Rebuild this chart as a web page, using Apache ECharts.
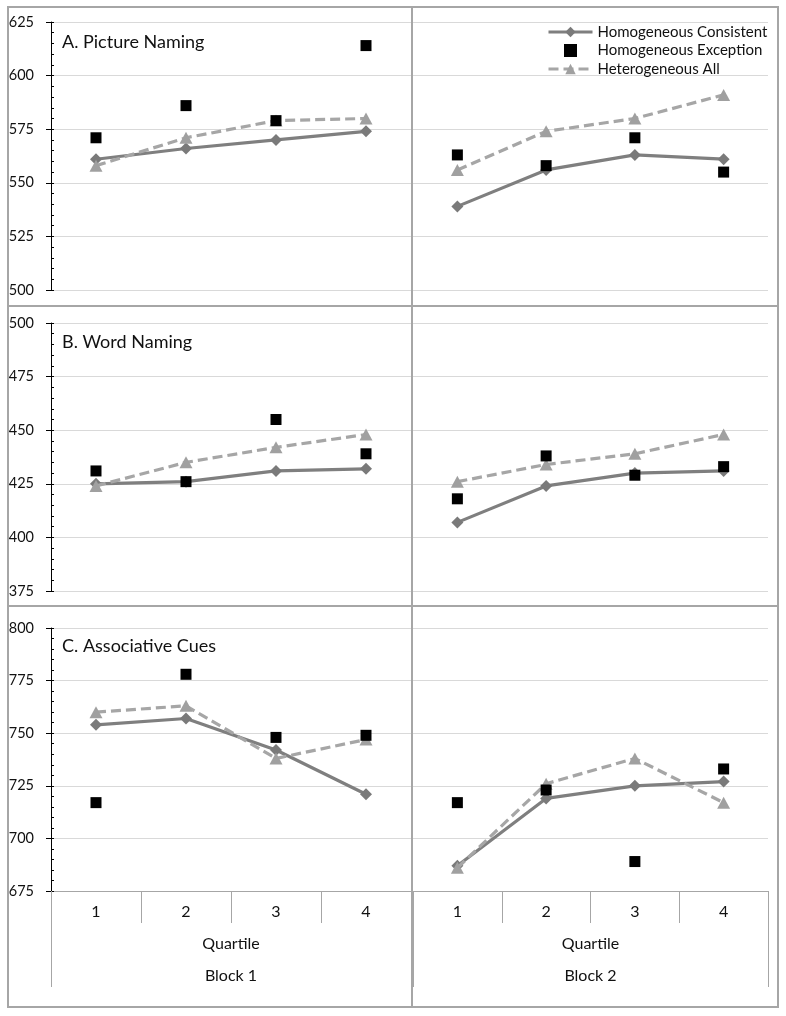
<!DOCTYPE html>
<html><head><meta charset="utf-8">
<script src="https://cdn.jsdelivr.net/npm/echarts@6/dist/echarts.min.js"></script>
<style>html,body{margin:0;padding:0;background:#fff}#c{width:786px;height:1016px}</style>
</head><body><div id="c"></div>
<script>
// ---- Data ----
const quartiles = ['1', '2', '3', '4'];
const blocks = ['Block 1', 'Block 2'];
const seriesNames = ['Homogeneous Consistent', 'Homogeneous Exception', 'Heterogeneous All'];
const panelTitles = ['A. Picture Naming', 'B. Word Naming', 'C. Associative Cues'];
const yMins = [500, 375, 675];
const yMaxs = [625, 500, 800];
const yInterval = 25;

// A. Picture Naming
const pictureB1Consistent = [561, 566, 570, 574];
const pictureB1Exception  = [571, 586, 579, 614];
const pictureB1Hetero     = [558, 571, 579, 580];
const pictureB2Consistent = [539, 556, 563, 561];
const pictureB2Exception  = [563, 558, 571, 555];
const pictureB2Hetero     = [556, 574, 580, 591];
// B. Word Naming
const wordB1Consistent = [425, 426, 431, 432];
const wordB1Exception  = [431, 426, 455, 439];
const wordB1Hetero     = [424, 435, 442, 448];
const wordB2Consistent = [407, 424, 430, 431];
const wordB2Exception  = [418, 438, 429, 433];
const wordB2Hetero     = [426, 434, 439, 448];
// C. Associative Cues
const assocB1Consistent = [754, 757, 742, 721];
const assocB1Exception  = [717, 778, 748, 749];
const assocB1Hetero     = [760, 763, 738, 747];
const assocB2Consistent = [687, 719, 725, 727];
const assocB2Exception  = [717, 723, 689, 733];
const assocB2Hetero     = [686, 726, 738, 717];

const panels = [
  [[pictureB1Consistent, pictureB1Exception, pictureB1Hetero], [pictureB2Consistent, pictureB2Exception, pictureB2Hetero]],
  [[wordB1Consistent, wordB1Exception, wordB1Hetero], [wordB2Consistent, wordB2Exception, wordB2Hetero]],
  [[assocB1Consistent, assocB1Exception, assocB1Hetero], [assocB2Consistent, assocB2Exception, assocB2Hetero]]
];

// ---- Layout / style ----
const FONT = 'Lato';
const panelTops = [22, 323, 628];
const panelHeights = [268, 268, 263];
const blockLefts = [51, 413];
const blockWidths = [360, 355];
const titleTops = [33, 333, 637];
const frameColor = '#a6a6a6';
const textColor = '#111';

const grid = [], xAxis = [], yAxis = [], series = [], title = [];

for (let p = 0; p < 3; p++) {
  title.push({ text: panelTitles[p], left: 62, top: titleTops[p], padding: 0,
    textStyle: { fontFamily: FONT, fontSize: 18, fontWeight: 'normal', color: textColor } });
  for (let b = 0; b < 2; b++) {
    const gi = grid.length;
    grid.push({ left: blockLefts[b], top: panelTops[p], width: blockWidths[b], height: panelHeights[p] });
    const isBottom = p === 2;
    const xi = xAxis.length;
    xAxis.push({
      type: 'category', gridIndex: gi, data: quartiles, boundaryGap: true, show: isBottom,
      position: 'bottom',
      axisLine: { show: true, lineStyle: { color: '#a6a6a6', width: 1 } },
      axisTick: { show: true, length: 32, lineStyle: { color: '#a6a6a6' } },
      axisLabel: { margin: 13, fontFamily: FONT, fontSize: 16, color: textColor },
      name: isBottom ? 'Quartile' : '', nameLocation: 'middle', nameGap: 45,
      nameTextStyle: { fontFamily: FONT, fontSize: 16, color: textColor }
    });
    if (isBottom) {
      xAxis.push({
        type: 'category', gridIndex: gi, data: [blocks[b]], boundaryGap: true, position: 'bottom',
        axisLine: { show: false },
        axisTick: { show: true, length: 96, lineStyle: { color: '#a6a6a6' } },
        axisLabel: { margin: 77, fontFamily: FONT, fontSize: 16, color: textColor }
      });
    }
    const yi = yAxis.length;
    yAxis.push({
      type: 'value', gridIndex: gi, min: yMins[p], max: yMaxs[p], interval: yInterval, position: 'left',
      axisLine: { show: b === 0, lineStyle: { color: '#000', width: 1 } },
      axisTick: { show: b === 0, inside: false, length: 5, lineStyle: { color: '#000' } },
      axisLabel: { show: b === 0, margin: 17, fontFamily: FONT, fontSize: 14.5, color: textColor },
      splitLine: { show: true, lineStyle: { color: '#d9d9d9', width: 1 } }
    });
    if (b === 0) {
      yAxis.push({
        type: 'value', gridIndex: gi, min: yMins[p], max: yMaxs[p], interval: yInterval, position: 'left',
        axisLine: { show: false },
        axisTick: { show: true, inside: true, length: 3, lineStyle: { color: '#000' } },
        minorTick: { show: true, splitNumber: 5, length: 3, lineStyle: { color: '#000' } },
        axisLabel: { show: false },
        splitLine: { show: false }
      });
    }
    const d = panels[p][b];
    series.push({
      name: seriesNames[0], type: 'line', xAxisIndex: xi, yAxisIndex: yi, data: d[0],
      symbol: 'diamond', symbolSize: [12, 12], z: 2,
      lineStyle: { color: '#7f7f7f', width: 3.2 }, itemStyle: { color: '#7a7a7a' }
    });
    series.push({
      name: seriesNames[2], type: 'line', xAxisIndex: xi, yAxisIndex: yi, data: d[2],
      symbol: 'triangle', symbolSize: [13, 12], z: 3,
      lineStyle: { color: '#a6a6a6', width: 3.2, type: [10, 5] }, itemStyle: { color: '#a0a0a0' }
    });
    series.push({
      name: seriesNames[1], type: 'scatter', xAxisIndex: xi, yAxisIndex: yi, data: d[1],
      symbol: 'rect', symbolSize: 11, z: 4, itemStyle: { color: '#000', opacity: 1 }
    });
  }
}

const chart = echarts.init(document.getElementById('c'), null, { renderer: 'canvas' });
chart.setOption({
  animation: false,
  backgroundColor: '#fff',
  title: title,
  legend: {
    orient: 'vertical', left: 542, top: 18, itemWidth: 44, itemHeight: 13, itemGap: 0.5,
    selectedMode: false, symbolKeepAspect: true,
    data: [
      { name: seriesNames[0] },
      { name: seriesNames[1], icon: 'path://M0,0L10,0L10,10L0,10Z', itemStyle: { opacity: 1 } },
      { name: seriesNames[2] }
    ],
    lineStyle: { width: 3 },
    textStyle: { fontFamily: FONT, fontSize: 15, color: textColor, lineHeight: 18 }
  },
  grid: grid, xAxis: xAxis, yAxis: yAxis, series: series,
  graphic: [
    { type: 'rect', z: 100, shape: { x: 8, y: 7, width: 770, height: 1000 }, style: { fill: null, stroke: frameColor, lineWidth: 2 } },
    { type: 'line', z: 100, shape: { x1: 8, y1: 306, x2: 778, y2: 306 }, style: { stroke: frameColor, lineWidth: 2 } },
    { type: 'line', z: 100, shape: { x1: 8, y1: 606, x2: 778, y2: 606 }, style: { stroke: frameColor, lineWidth: 2 } },
    { type: 'line', z: 100, shape: { x1: 412, y1: 7, x2: 412, y2: 1007 }, style: { stroke: frameColor, lineWidth: 2 } }
  ]
});
</script></body></html>
